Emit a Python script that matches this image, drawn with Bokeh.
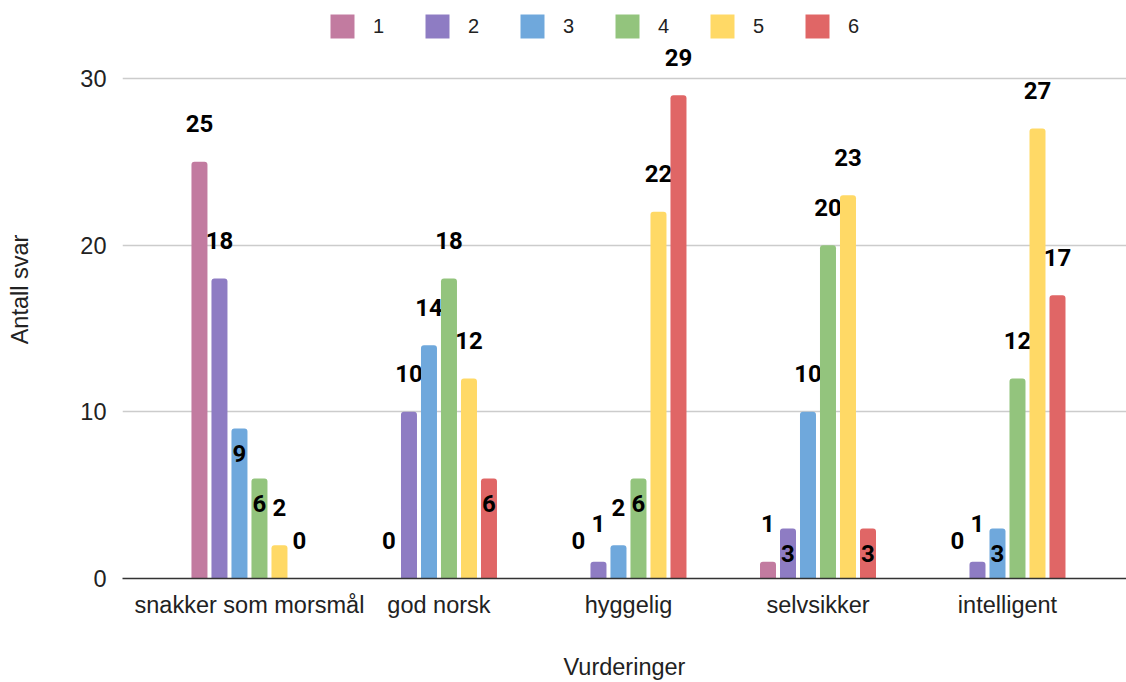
from bokeh.plotting import figure
from bokeh.models import ColumnDataSource, FixedTicker, Legend, LegendItem, Range1d
from bokeh.embed import file_html
from bokeh.resources import INLINE
from bokeh.core.properties import value

# ---- data ----
categories = ["snakker som morsmål", "god norsk", "hyggelig", "selvsikker", "intelligent"]
series_names = ["1", "2", "3", "4", "5", "6"]
s1 = [25, 0, 0, 1, 0]
s2 = [18, 10, 1, 3, 1]
s3 = [9, 14, 2, 10, 3]
s4 = [6, 18, 6, 20, 12]
s5 = [2, 12, 22, 23, 27]
s6 = [0, 6, 29, 3, 17]
series_values = [s1, s2, s3, s4, s5, s6]
y_ticks = [0, 10, 20, 30]

# ---- style ----
colors = ["#c27ba0", "#8e7cc3", "#6fa8dc", "#93c47d", "#ffd966", "#e06666"]
# where the value label sits: True = just inside the top of the bar
label_inside = [
    [False, False, False, False, False],
    [False, False, False, True, False],
    [True, False, False, False, True],
    [True, False, True, False, False],
    [False, False, False, False, False],
    [False, True, False, True, False],
]
bar_w = 16 / 189.5
pitch = 20 / 189.5
FONT = "Liberation Sans"
TXT = "#222222"

p = figure(width=1126, height=682,
           x_range=Range1d(-0.670, 4.628), y_range=Range1d(0, 34.68),
           output_backend="svg", toolbar_location=None,
           min_border_left=122, min_border_right=0,
           min_border_top=0, min_border_bottom=104)
p.outline_line_color = None
p.background_fill_color = "white"

p.xgrid.grid_line_color = None
p.ygrid.ticker = FixedTicker(ticks=y_ticks)
p.ygrid.grid_line_color = "#cccccc"
p.ygrid.grid_line_width = 1.5

legend_items = []
for i, (name, vals, col) in enumerate(zip(series_names, series_values, colors)):
    xs = [c + (i - 2.5) * pitch for c in range(len(categories))]
    src = ColumnDataSource(dict(
        x=xs, top=vals, label=[str(v) for v in vals],
        yoff=[25 if inside else -38 for inside in label_inside[i]],
    ))
    r = p.vbar(x="x", top="top", bottom=0, width=bar_w, source=src,
               fill_color=col, line_color=None, border_radius=(3, 3, 0, 0))
    legend_items.append(LegendItem(label=name, renderers=[r]))
    p.text(x="x", y="top", text="label", source=src, y_offset="yoff",
           text_font=value("Roboto"), text_font_style="bold",
           text_font_size="24px", text_align="center", text_baseline="middle",
           text_color="#000000")

legend = Legend(items=legend_items, orientation="horizontal",
                location=(205, 537), glyph_width=30, glyph_height=30,
                label_standoff=16, spacing=29, padding=0, margin=0,
                border_line_color=None, background_fill_alpha=0,
                label_text_font=FONT, label_text_font_size="20px",
                label_text_color=TXT)
p.add_layout(legend)

xa = p.xaxis[0]
xa.ticker = FixedTicker(ticks=list(range(len(categories))))
xa.major_label_overrides = {i: c for i, c in enumerate(categories)}
xa.axis_line_color = "#333333"
xa.axis_line_width = 1.5
xa.major_tick_line_color = None
xa.minor_tick_line_color = None
xa.major_label_text_font = FONT
xa.major_label_text_font_size = "23.5px"
xa.major_label_text_color = TXT
xa.major_label_standoff = 7
xa.axis_label = "Vurderinger"
xa.axis_label_text_font = FONT
xa.axis_label_text_font_size = "23.5px"
xa.axis_label_text_font_style = "normal"
xa.axis_label_text_color = TXT
xa.axis_label_standoff = 33

ya = p.yaxis[0]
ya.ticker = FixedTicker(ticks=y_ticks)
ya.axis_line_color = None
ya.major_tick_line_color = None
ya.minor_tick_line_color = None
ya.major_label_text_font = FONT
ya.major_label_text_font_size = "23.5px"
ya.major_label_text_color = TXT
ya.major_label_standoff = 10
ya.axis_label = "Antall svar"
ya.axis_label_text_font = FONT
ya.axis_label_text_font_size = "23.5px"
ya.axis_label_text_font_style = "normal"
ya.axis_label_text_color = TXT
ya.axis_label_standoff = 44

open("out.html", "w").write(file_html(p, INLINE))
